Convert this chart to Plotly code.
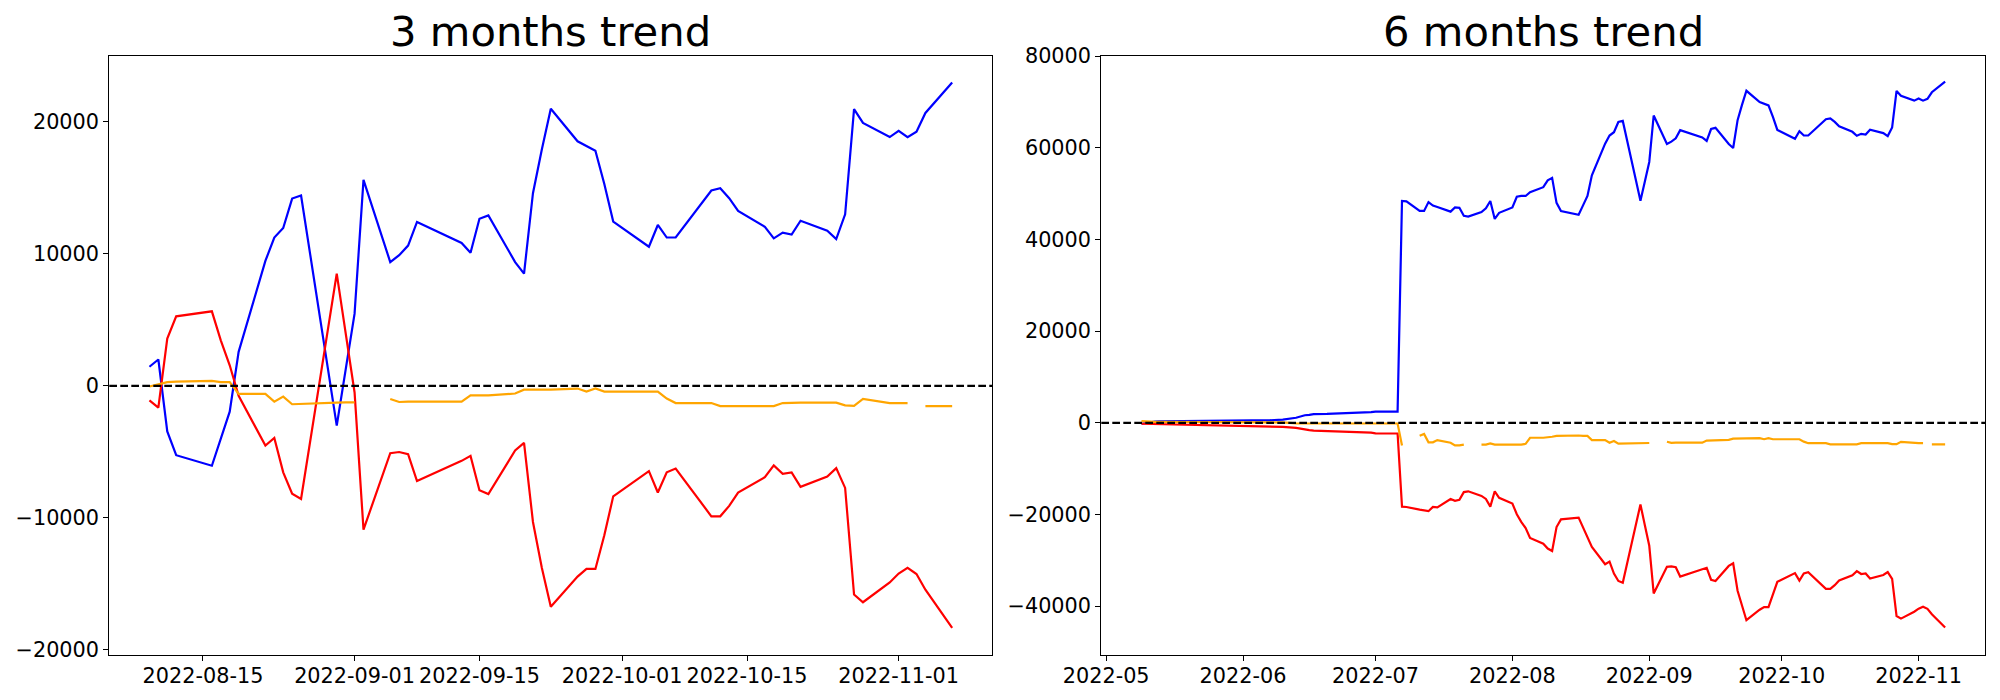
import plotly.graph_objects as go

# ---------------- data ----------------
dates_3m = [
    "2022-08-09", "2022-08-10", "2022-08-11", "2022-08-12", "2022-08-16", "2022-08-17", "2022-08-18", "2022-08-19",
    "2022-08-22", "2022-08-23", "2022-08-24", "2022-08-25", "2022-08-26", "2022-08-29", "2022-08-30", "2022-08-31",
    "2022-09-01", "2022-09-02", "2022-09-05", "2022-09-06", "2022-09-07", "2022-09-08", "2022-09-13", "2022-09-14",
    "2022-09-15", "2022-09-16", "2022-09-19", "2022-09-20", "2022-09-21", "2022-09-22", "2022-09-23", "2022-09-26",
    "2022-09-27", "2022-09-28", "2022-09-29", "2022-09-30", "2022-10-04", "2022-10-05", "2022-10-06", "2022-10-07",
    "2022-10-11", "2022-10-12", "2022-10-13", "2022-10-14", "2022-10-17", "2022-10-18", "2022-10-19", "2022-10-20",
    "2022-10-21", "2022-10-24", "2022-10-25", "2022-10-26", "2022-10-27", "2022-10-28", "2022-10-31", "2022-11-01",
    "2022-11-02", "2022-11-03", "2022-11-04", "2022-11-07",
]
blue_3m = [
    1450, 2000, -3450, -5250, -6050, -4000, -1950, 2580,
    9470, 11240, 11960, 14190, 14420, 1350, -3010, 1230,
    5470, 15610, 9380, 9900, 10630, 12420, 10830, 10080,
    12660, 12920, 9380, 8510, 14600, 17930, 21000, 18530,
    18160, 17810, 15290, 12450, 10540, 12190, 11240, 11240,
    14800, 14970, 14220, 13260, 12050, 11180, 11610, 11470,
    12510, 11760, 11120, 13000, 20970, 19920, 18850, 19320,
    18850, 19260, 20680, 22990,
]
red_3m = [
    -1100, -1650, 3590, 5270, 5650, 3450, 1560, -750,
    -4520, -3940, -6550, -8170, -8570, 4240, 8510, 4000,
    -500, -10890, -5100, -5010, -5180, -7210, -5680, -5300,
    -7910, -8200, -4890, -4320, -10310, -13790, -16740, -14450,
    -13870, -13870, -11320, -8370, -6460, -8080, -6550, -6260,
    -9880, -9880, -9090, -8080, -6920, -6020, -6660, -6550,
    -7650, -6860, -6230, -7730, -15810, -16390, -14890, -14220,
    -13790, -14250, -15440, -18330,
]
orange_3m = [
    -50, 120, 290, 320, 380, 290, 290, -610,
    -610, -1190, -810, -1390, -1360, -1250, -1270, -1250,
    -1250, None, -990, -1220, -1190, -1190, -1190, -720,
    -720, -720, -580, -290, -290, -290, -290, -200,
    -430, -200, -430, -430, -430, -430, -960, -1300,
    -1300, -1530, -1530, -1530, -1530, -1530, -1300, -1270,
    -1270, -1270, -1270, -1480, -1510, -990, -1300, -1300,
    -1300, None, -1530, -1530,
]

dates_6m = [
    "2022-05-09", "2022-05-10", "2022-05-11", "2022-05-12", "2022-05-13", "2022-05-16", "2022-05-17", "2022-05-18",
    "2022-05-19", "2022-05-20", "2022-05-23", "2022-05-24", "2022-05-25", "2022-05-26", "2022-05-27", "2022-05-30",
    "2022-05-31", "2022-06-02", "2022-06-03", "2022-06-07", "2022-06-08", "2022-06-09", "2022-06-10", "2022-06-13",
    "2022-06-14", "2022-06-15", "2022-06-16", "2022-06-17", "2022-06-20", "2022-06-21", "2022-06-22", "2022-06-23",
    "2022-06-24", "2022-06-27", "2022-06-28", "2022-06-29", "2022-06-30", "2022-07-01", "2022-07-04", "2022-07-05",
    "2022-07-06", "2022-07-07", "2022-07-08", "2022-07-11", "2022-07-12", "2022-07-13", "2022-07-14", "2022-07-15",
    "2022-07-18", "2022-07-19", "2022-07-20", "2022-07-21", "2022-07-22", "2022-07-25", "2022-07-26", "2022-07-27",
    "2022-07-28", "2022-07-29", "2022-08-01", "2022-08-02", "2022-08-03", "2022-08-04", "2022-08-05", "2022-08-08",
] + dates_3m
blue_6m = [
    -200, 0, 150, 250, 300, 350, 400, 400,
    420, 450, 450, 450, 480, 500, 500, 500,
    520, 520, 540, 560, 580, 620, 700, 1100,
    1450, 1650, 1750, 1900, 1950, 1980, 2000, 2050,
    2100, 2150, 2200, 2250, 2350, 2450, 2450, 2450,
    2450, 48410, 48330, 46240, 46240, 48160, 47410, 47080,
    46080, 46990, 46910, 45160, 44990, 45990, 46830, 48410,
    44490, 45830, 46990, 49330, 49500, 49500, 50330, 51420,
    52900, 53450, 48000, 46200, 45400, 47450, 49500, 54030,
    60920, 62690, 63410, 65640, 65870, 52800, 48440, 52680,
    56920, 67060, 60830, 61350, 62080, 63870, 62280, 61530,
    64110, 64370, 60830, 59960, 66050, 69380, 72450, 69980,
    69610, 69260, 66740, 63900, 61990, 63640, 62690, 62690,
    66250, 66420, 65670, 64710, 63500, 62630, 63060, 62920,
    63960, 63210, 62570, 64450, 72420, 71370, 70300, 70770,
    70300, 70710, 72130, 74440,
]
red_6m = [
    -200, -220, -250, -280, -300, -330, -360, -380,
    -400, -430, -450, -470, -500, -520, -540, -570,
    -600, -620, -650, -700, -750, -800, -900, -1100,
    -1300, -1450, -1600, -1700, -1780, -1820, -1860, -1900,
    -1950, -2000, -2050, -2100, -2150, -2300, -2330, -2330,
    -2330, -18280, -18360, -18950, -19120, -19280, -18360, -18450,
    -16610, -17030, -16780, -15110, -14940, -15940, -16610, -18280,
    -14940, -16360, -17610, -19950, -21620, -22950, -25120, -26380,
    -27430, -27980, -22740, -21060, -20680, -22880, -24770, -27080,
    -30850, -30270, -32880, -34500, -34900, -22090, -17820, -22330,
    -26830, -37220, -31430, -31340, -31510, -33540, -32010, -31630,
    -34240, -34530, -31220, -30650, -36640, -40120, -43070, -40780,
    -40200, -40200, -37650, -34700, -32790, -34410, -32880, -32590,
    -36210, -36210, -35420, -34410, -33250, -32350, -32990, -32880,
    -33980, -33190, -32560, -34060, -42140, -42720, -41220, -40550,
    -40120, -40580, -41770, -44660,
]
orange_6m = [
    350, 250, 200, 200, 200, 200, 200, 200,
    200, 200, 150, 150, 150, 150, 150, 150,
    150, 150, 150, 100, 100, 100, 100, -100,
    -150, -150, -150, -150, -150, -150, -150, -150,
    -150, -150, -150, -150, -150, -150, -150, -150,
    -150, -4930, None, -2840, -2420, -4260, -4260, -3760,
    -4340, -4930, -4930, -4760, None, -4760, -4760, -4510,
    -4760, -4760, -4760, -4760, -4760, -4590, -3260, -3260,
    -3200, -3030, -2860, -2830, -2770, -2860, -2860, -3760,
    -3760, -4340, -3960, -4540, -4510, -4400, -4420, -4400,
    -4400, None, -4140, -4370, -4340, -4340, -4340, -3870,
    -3870, -3870, -3730, -3440, -3440, -3440, -3440, -3350,
    -3580, -3350, -3580, -3580, -3580, -3580, -4110, -4450,
    -4450, -4680, -4680, -4680, -4680, -4680, -4450, -4420,
    -4420, -4420, -4420, -4630, -4660, -4140, -4450, -4450,
    -4450, None, -4680, -4680,
]

titles = ["3 months trend", "6 months trend"]
xtick_vals_3m = ["2022-08-15", "2022-09-01", "2022-09-15", "2022-10-01", "2022-10-15", "2022-11-01"]
xtick_text_3m = ["2022-08-15", "2022-09-01", "2022-09-15", "2022-10-01", "2022-10-15", "2022-11-01"]
xtick_vals_6m = ["2022-05-01", "2022-06-01", "2022-07-01", "2022-08-01", "2022-09-01", "2022-10-01", "2022-11-01"]
xtick_text_6m = ["2022-05", "2022-06", "2022-07", "2022-08", "2022-09", "2022-10", "2022-11"]
ytick_vals_3m = [-20000, -10000, 0, 10000, 20000]
ytick_vals_6m = [-40000, -20000, 0, 20000, 40000, 60000, 80000]


def fmt(v):
    return ("\u2212" + str(-v)) if v < 0 else str(v)


# ---------------- figure ----------------
FONT = "DejaVu Sans"
W, H = 2000, 700
LW = 2.2

fig = go.Figure()
series = [
    ("x", "y", dates_3m, blue_3m, red_3m, orange_3m),
    ("x2", "y2", dates_6m, blue_6m, red_6m, orange_6m),
]
for xa, ya, d, b, r, o in series:
    fig.add_trace(go.Scatter(x=d, y=b, mode="lines", line=dict(color="#0000ff", width=LW),
                             xaxis=xa, yaxis=ya, showlegend=False))
    fig.add_trace(go.Scatter(x=d, y=r, mode="lines", line=dict(color="#ff0000", width=LW),
                             xaxis=xa, yaxis=ya, showlegend=False))
    fig.add_trace(go.Scatter(x=d, y=o, mode="lines", line=dict(color="#ffa500", width=LW),
                             xaxis=xa, yaxis=ya, showlegend=False, connectgaps=False))

# pixel geometry of the two axes boxes
left_px = [(109.3, 992.3), (1101.3, 1985.3)]
top_px, bot_px = 55.5, 654.5
ydom = [(H - bot_px) / H, (H - top_px) / H]

common_axis = dict(
    showline=True, linecolor="black", linewidth=1.1, mirror=True,
    ticks="outside", ticklen=5, tickwidth=1.1, tickcolor="black",
    showgrid=False, zeroline=False, automargin=False,
    tickfont=dict(family=FONT, size=20.8, color="black"),
)

fig.update_layout(
    template="none",
    width=W, height=H, autosize=False,
    margin=dict(l=0, r=0, t=0, b=0, pad=0),
    paper_bgcolor="white", plot_bgcolor="white",
    font=dict(family=FONT, color="black"),
    xaxis=dict(domain=[left_px[0][0] / W, left_px[0][1] / W], anchor="y", type="date",
               range=["2022-08-04 12:00", "2022-11-11 12:00"], tickangle=0, ticklabelstandoff=-3,
               tickmode="array", tickvals=xtick_vals_3m, ticktext=xtick_text_3m, **common_axis),
    yaxis=dict(domain=ydom, anchor="x", range=[-20350, 25030],
               tickmode="array", tickvals=ytick_vals_3m, ticktext=[fmt(v) for v in ytick_vals_3m],
               **common_axis),
    xaxis2=dict(domain=[left_px[1][0] / W, left_px[1][1] / W], anchor="y2", type="date",
                range=["2022-04-29 21:36", "2022-11-16 02:24"], tickangle=0, ticklabelstandoff=-3,
                tickmode="array", tickvals=xtick_vals_6m, ticktext=xtick_text_6m, **common_axis),
    yaxis2=dict(domain=ydom, anchor="x2", range=[-50550, 80150],
                tickmode="array", tickvals=ytick_vals_6m, ticktext=[fmt(v) for v in ytick_vals_6m],
                **common_axis),
)

# dashed zero lines across each axes
for xa, ya in [("x", "y"), ("x2", "y2")]:
    fig.add_shape(type="line", xref=f"{xa} domain", yref=ya, x0=0, x1=1, y0=0, y1=0,
                  line=dict(color="black", width=2.1, dash="7.7px,3.3px"), layer="above")

# titles
for i, t in enumerate(titles):
    cx = (left_px[i][0] + left_px[i][1]) / 2 / W
    fig.add_annotation(text=t, x=cx, y=(H - 31.5) / H, xref="paper", yref="paper",
                       xanchor="center", yanchor="middle", showarrow=False,
                       font=dict(family=FONT, size=41.7, color="black"))

fig.write_html(
    "out.html",
    config={"displayModeBar": False},
    post_script="document.body.style.margin='0';document.body.style.overflow='hidden';",
)
